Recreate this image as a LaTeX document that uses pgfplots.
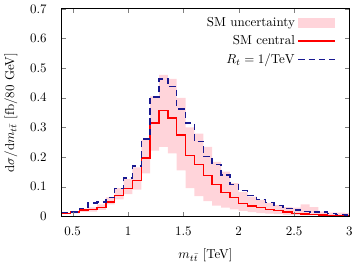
\documentclass[border=0pt]{standalone}
\usepackage{pgfplots}
\usepackage{pgfplotstable}
\pgfplotsset{compat=1.18}
\usepgfplotslibrary{fillbetween}
\definecolor{bandpink}{RGB}{255,212,218}
\definecolor{darkblue}{RGB}{25,25,145}
\pgfplotstableread{
x     lo     hi     red    blue
0.40  0.007  0.012  0.009  0.012
0.48  0.010  0.017  0.014  0.015
0.56  0.015  0.026  0.021  0.027
0.64  0.016  0.030  0.022  0.045
0.72  0.022  0.040  0.030  0.048
0.80  0.040  0.064  0.048  0.063
0.88  0.057  0.095  0.071  0.093
0.96  0.075  0.125  0.094  0.129
1.04  0.090  0.165  0.121  0.169
1.12  0.145  0.258  0.196  0.261
1.20  0.222  0.405  0.315  0.403
1.28  0.234  0.477  0.357  0.463
1.36  0.212  0.464  0.332  0.437
1.44  0.155  0.400  0.275  0.362
1.52  0.095  0.300  0.206  0.315
1.60  0.068  0.279  0.174  0.253
1.68  0.051  0.234  0.138  0.202
1.76  0.036  0.184  0.107  0.175
1.84  0.029  0.151  0.080  0.140
1.92  0.023  0.112  0.064  0.108
2.00  0.018  0.082  0.044  0.087
2.08  0.014  0.066  0.035  0.070
2.16  0.011  0.055  0.029  0.056
2.24  0.009  0.045  0.023  0.046
2.32  0.007  0.038  0.020  0.036
2.40  0.005  0.031  0.015  0.027
2.48  0.004  0.029  0.010  0.021
2.56  0.003  0.040  0.008  0.016
2.64  0.003  0.031  0.007  0.014
2.72  0.002  0.016  0.004  0.014
2.80  0.001  0.012  0.003  0.009
2.88  0.001  0.012  0.003  0.006
2.96  0.001  0.011  0.003  0.005
3.04  0.001  0.011  0.003  0.005
}\datatable
\begin{document}
\begin{tikzpicture}
\begin{axis}[
  scale only axis,
  width=222pt, height=160pt,
  xmin=0.4, xmax=3, ymin=0, ymax=0.7,
  xtick={0.5,1,1.5,2,2.5,3},
  ytick={0,0.1,0.2,0.3,0.4,0.5,0.6,0.7},
  xticklabels={0.5,1,1.5,2,2.5,3},
  yticklabels={0,0.1,0.2,0.3,0.4,0.5,0.6,0.7},
  xticklabel style={yshift=-5pt},
  yticklabel style={xshift=-8pt},
  tick align=inside,
  major tick length=3.5pt,
  axis line style={line width=0.7pt},
  xlabel={$m_{t\bar{t}}$ [TeV]},
  ylabel={$\mathrm{d}\sigma/\mathrm{d}m_{t\bar{t}}$ [fb/80 GeV]},
  xlabel style={yshift=-3pt},
  ylabel style={yshift=3pt},
  legend plot pos=right,
  legend cell align=right,
  legend style={draw=none, fill=none, at={(0.965,0.985)}, anchor=north east,
    row sep=1.5pt, font=\normalsize},
  axis on top,
]
\addplot[name path=up, const plot, draw=none, forget plot] table[x=x, y=hi] {\datatable};
\addplot[name path=lo, const plot, draw=none, forget plot] table[x=x, y=lo] {\datatable};
\addplot[bandpink, draw=none,
  legend image code/.code={\fill[bandpink] (0pt,-3.8pt) rectangle (28pt,3.8pt);}]
  fill between[of=up and lo];
\addlegendentry{SM uncertainty}
\addplot[const plot, red, line width=1.1pt,
  legend image code/.code={\draw[red, line width=1.1pt] (0pt,0pt) -- (28pt,0pt);}]
  table[x=x, y=red] {\datatable};
\addlegendentry{SM central}
\addplot[const plot, darkblue, line width=1.1pt, dash pattern=on 5pt off 3pt,
  legend image code/.code={\draw[darkblue, line width=1.1pt, dash pattern=on 5pt off 3pt] (0pt,0pt) -- (28pt,0pt);}]
  table[x=x, y=blue] {\datatable};
\addlegendentry{$R_t = 1/\mathrm{TeV}$}
\end{axis}
\end{tikzpicture}
\end{document}
